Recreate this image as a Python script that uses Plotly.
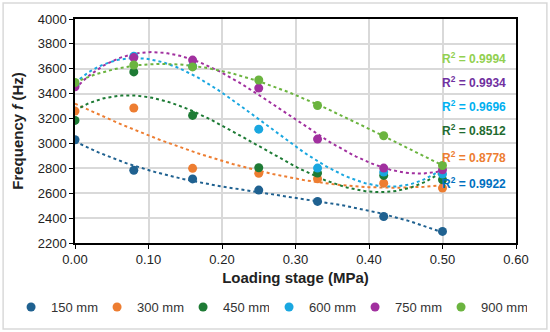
import numpy as np
import plotly.graph_objects as go

loading = [0.00, 0.08, 0.16, 0.25, 0.33, 0.42, 0.50]
series_names = ["150 mm", "300 mm", "450 mm", "600 mm", "750 mm", "900 mm"]
f150 = [3030, 2785, 2715, 2625, 2534, 2413, 2293]
f300 = [3260, 3285, 2800, 2760, 2716, 2681, 2641]
f450 = [3185, 3575, 3225, 2805, 2762, 2743, 2708]
f600 = [3470, 3700, 3620, 3115, 2802, 2770, 2754]
f750 = [3455, 3690, 3670, 3445, 3035, 2802, 2788]
f900 = [3490, 3630, 3615, 3510, 3305, 3062, 2823]
r2_labels = ["0.9922", "0.8778", "0.8512", "0.9696", "0.9934", "0.9994"]
r2_y = [2680, 2890, 3110, 3297, 3490, 3686]

values = [f150, f300, f450, f600, f750, f900]
marker_colors = ["#1F6190", "#ED7D31", "#1E7B35", "#1AA7E0", "#A1309F", "#6BB43F"]
r2_colors = ["#0070C0", "#ED7D31", "#1F6B30", "#00B0F0", "#7030A0", "#92D050"]

FONT = "Liberation Sans, Arial, sans-serif"
fig = go.Figure()

xs = np.linspace(min(loading), max(loading), 120)
for name, vals, col in zip(series_names, values, marker_colors):
    coef = np.polyfit(loading, vals, 3)
    fig.add_trace(go.Scatter(x=xs, y=np.polyval(coef, xs), mode="lines",
                             line=dict(color=col, width=2, dash="dot"),
                             showlegend=False, hoverinfo="skip"))
for i, (name, vals, col) in enumerate(zip(series_names, values, marker_colors)):
    fig.add_trace(go.Scatter(x=loading, y=vals, mode="markers", name=name,
                             legend="legend" if i < 3 else "legend2",
                             marker=dict(color=col, size=9)))

for lab, yv, col in zip(r2_labels, r2_y, r2_colors):
    fig.add_annotation(x=0.589, y=yv, xref="x", yref="y", xanchor="right",
                       text=f"<b>R<sup>2</sup> = {lab}</b>", showarrow=False,
                       font=dict(family=FONT, size=12, color=col))

leg_common = dict(orientation="h", y=-0.286, yanchor="middle", xanchor="left",
                  font=dict(family=FONT, size=13, color="#333"),
                  entrywidth=41, entrywidthmode="pixels", tracegroupgap=0,
                  bgcolor="rgba(0,0,0,0)")
fig.update_layout(
    width=550, height=332,
    margin=dict(l=75, r=34, t=19, b=89, autoexpand=False),
    paper_bgcolor="white", plot_bgcolor="white",
    font=dict(family=FONT, size=12, color="#222"),
    legend=dict(x=-0.145, **leg_common),
    legend2=dict(x=0.44, **leg_common),
    shapes=[dict(type="rect", xref="paper", yref="paper", x0=-0.163, x1=1.070,
                 y0=-0.384, y1=1.071, line=dict(color="#D9D9D9", width=1.5))],
)
fig.update_xaxes(range=[0, 0.6], dtick=0.1, tickformat=".2f",
                 showgrid=True, gridcolor="#D9D9D9", gridwidth=1.5,
                 showline=True, linecolor="black", linewidth=1.5, mirror=True,
                 ticks="outside", ticklen=4, tickcolor="black",
                 tickfont=dict(size=13, color="#222"), zeroline=False,
                 title=dict(text="<b>Loading stage (MPa)</b>", font=dict(size=15, color="#222"), standoff=6))
fig.update_yaxes(range=[2200, 4000], dtick=200,
                 showgrid=True, gridcolor="#D9D9D9", gridwidth=1.5,
                 showline=True, linecolor="black", linewidth=1.5, mirror=True,
                 ticks="outside", ticklen=4, tickcolor="black",
                 tickfont=dict(size=13, color="#222"), zeroline=False,
                 title=dict(text="<b>Frequency <i>f</i> (Hz)</b>", font=dict(size=15, color="#222"), standoff=10))

fig.write_html("out.html", config={"displayModeBar": False},
               post_script="document.body.style.margin='0';document.body.style.overflow='hidden';")
